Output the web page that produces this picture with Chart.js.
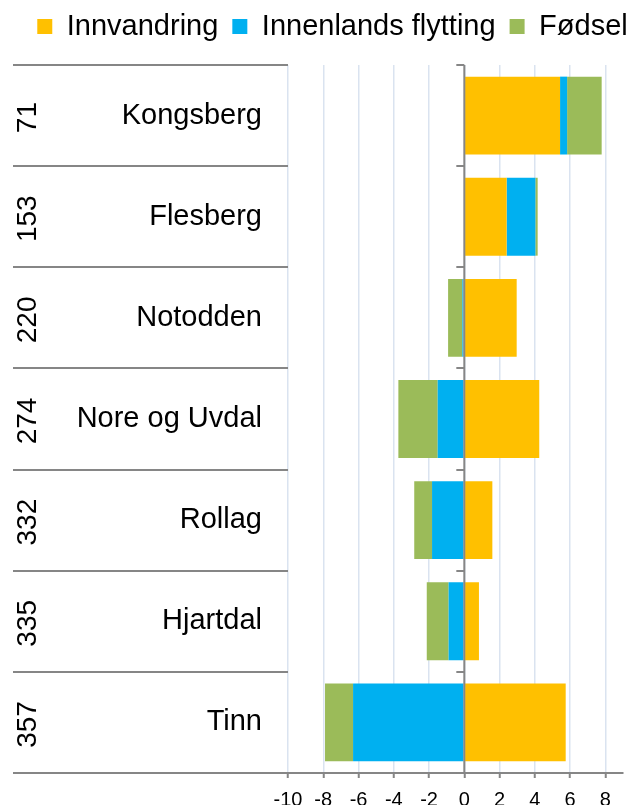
<!DOCTYPE html>
<html><head><meta charset="utf-8">
<script src="https://cdn.jsdelivr.net/npm/chart.js@4"></script>
<style>html,body{margin:0;padding:0;background:#fff;overflow:hidden}#wrap{width:641px;height:822px;position:relative}</style>
</head><body><div id="wrap"><canvas id="c"></canvas></div>
<script>
const municipalities = ['Kongsberg', 'Flesberg', 'Notodden', 'Nore og Uvdal', 'Rollag', 'Hjartdal', 'Tinn'];
const ranks = ['71', '153', '220', '274', '332', '335', '357'];
const innvandring = [5.43, 2.40, 2.97, 4.25, 1.59, 0.83, 5.75];
const innenlands = [0.40, 1.63, -0.11, -1.51, -1.83, -0.89, -6.31];
const fodsel = [1.96, 0.13, -0.81, -2.23, -1.01, -1.24, -1.59];
const xTicks = [-10, -8, -6, -4, -2, 0, 2, 4, 6, 8];
const seriesNames = ['Innvandring', 'Innenlands flytting', 'Fødsel'];
const seriesColors = ['#FFC000', '#00B0F0', '#9BBB59'];

Chart.defaults.font.family = '"Liberation Sans", Arial, sans-serif';
Chart.defaults.color = '#000';

const GRAY = '#868686';

const legendTweak = {
  id: 'legendTweak',
  beforeLayout(chart) {
    if (chart.legend && !chart.legend._patched) {
      const orig = chart.legend.fit;
      chart.legend.fit = function () { orig.call(this); this.height = 65; };
      chart.legend._patched = true;
    }
  },
  afterLayout(chart) {
    if (chart.legend) {
      chart.legend.left += 21; chart.legend.right += 21;
      chart.legend.top -= 2; chart.legend.bottom -= 2;
    }
  }
};

const categoryDecor = {
  id: 'categoryDecor',
  afterDatasetsDraw(chart) {
    const ctx = chart.ctx, y = chart.scales.y, x = chart.scales.x, ca = chart.chartArea;
    const x0 = x.getPixelForValue(0);
    ctx.save();
    ctx.strokeStyle = GRAY;
    ctx.lineWidth = 2;
    ctx.beginPath(); ctx.moveTo(x0, ca.top); ctx.lineTo(x0, ca.bottom); ctx.stroke();
    for (let i = 0; i <= municipalities.length; i++) {
      const py = Math.round(y.getPixelForValue(i - 0.5));
      ctx.beginPath(); ctx.moveTo(y.left + 13, py); ctx.lineTo(ca.left, py); ctx.stroke();
      ctx.beginPath(); ctx.moveTo(x0 - 8, py); ctx.lineTo(x0, py); ctx.stroke();
    }
    ctx.fillStyle = '#000';
    ctx.font = '28px "Liberation Sans", Arial, sans-serif';
    ctx.textAlign = 'center';
    ctx.textBaseline = 'middle';
    ranks.forEach((r, i) => {
      const py = y.getPixelForValue(i);
      ctx.save();
      ctx.translate(y.left + 28, py + 2);
      ctx.rotate(-Math.PI / 2);
      ctx.fillText(r, 0, 0);
      ctx.restore();
    });
    ctx.restore();
  }
};

new Chart(document.getElementById('c'), {
  type: 'bar',
  data: {
    labels: municipalities,
    datasets: [
      { label: seriesNames[0], data: innvandring, backgroundColor: seriesColors[0] },
      { label: seriesNames[1], data: innenlands, backgroundColor: seriesColors[1] },
      { label: seriesNames[2], data: fodsel, backgroundColor: seriesColors[2] }
    ]
  },
  options: {
    indexAxis: 'y',
    responsive: true,
    maintainAspectRatio: false,
    animation: false,
    datasets: { bar: { barPercentage: 0.77, categoryPercentage: 1 } },
    layout: { padding: { left: 0, right: 18, top: 0, bottom: 0 } },
    plugins: {
      legend: {
        position: 'top',
        labels: { boxWidth: 15, boxHeight: 15, padding: 14, font: { size: 29 }, color: '#000' }
      },
      tooltip: { enabled: false }
    },
    scales: {
      x: {
        stacked: true,
        min: -10, max: 9,
        afterBuildTicks: s => { s.ticks = xTicks.map(v => ({ value: v })); },
        ticks: { font: { size: 20 }, padding: 10, color: '#000' },
        grid: { color: '#dae3f0', lineWidth: 1.5, tickColor: GRAY, tickLength: 5, tickWidth: 2 },
        border: { color: GRAY, width: 2 }
      },
      y: {
        stacked: true,
        afterFit: s => { s.width = 288; },
        ticks: { font: { size: 29 }, padding: 26, color: '#000' },
        grid: { drawOnChartArea: false, drawTicks: false },
        border: { display: false }
      }
    }
  },
  plugins: [legendTweak, categoryDecor]
});
</script></body></html>
